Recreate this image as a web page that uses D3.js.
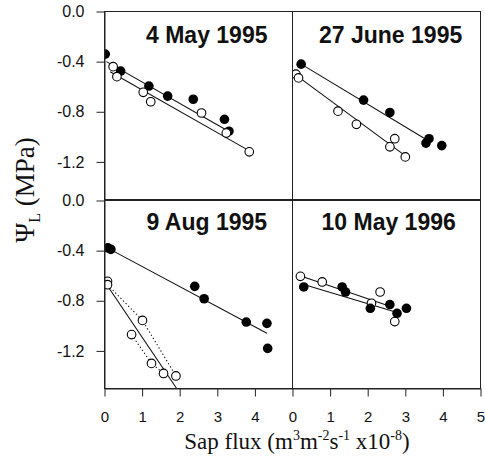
<!DOCTYPE html>
<html>
<head>
<meta charset="utf-8">
<script src="https://cdn.jsdelivr.net/npm/d3@7"></script>
<style>
  body { margin: 0; background: #fff; }
  svg { display: block; }
</style>
</head>
<body>
<svg id="chart" width="485" height="471"></svg>
<script>
// Leaf water potential vs. sap flux, four measurement days.
// Points are [sap flux (x10^-8 m3 m-2 s-1), leaf water potential (MPa)].
const panelTitles = ["4 May 1995", "27 June 1995", "9 Aug 1995", "10 May 1996"];

const may95Filled = [[0.02, -0.34], [0.43, -0.475], [1.18, -0.595], [1.68, -0.675], [2.36, -0.70], [3.19, -0.86], [3.31, -0.955]];
const may95Open   = [[0.23, -0.44], [0.33, -0.52], [1.03, -0.645], [1.23, -0.72], [2.58, -0.81], [3.24, -0.97], [3.85, -1.12]];
const may95FilledFit = [[0.05, -0.40], [3.3, -0.955]];
const may95OpenFit   = [[0.15, -0.48], [3.9, -1.12]];

const jun95Filled = [[0.23, -0.42], [1.89, -0.707], [2.59, -0.806], [3.55, -1.05], [3.63, -1.015], [3.97, -1.07]];
const jun95Open   = [[0.09, -0.50], [0.16, -0.53], [1.21, -0.795], [1.70, -0.90], [2.72, -1.015], [2.59, -1.08], [3.0, -1.16]];
const jun95FilledFit = [[0.23, -0.42], [3.6, -1.03]];
const jun95OpenFit   = [[0.1, -0.51], [2.95, -1.14]];

const aug95Filled = [[0.09, -0.378], [0.17, -0.39], [2.4, -0.685], [2.65, -0.784], [3.77, -0.97], [4.32, -0.98], [4.34, -1.18]];
const aug95Open   = [[0.08, -0.645], [0.08, -0.672], [1.01, -0.957], [0.72, -1.07], [1.25, -1.30], [1.57, -1.38], [1.9, -1.40]];
const aug95FilledFit = [[0.15, -0.39], [4.32, -1.06]];
const aug95OpenFit   = [[0.1, -0.69], [1.92, -1.5]];
const aug95UpperEnvelope = [[0.08, -0.672], [1.01, -0.957], [1.9, -1.40]];
const aug95LowerEnvelope = [[0.72, -1.07], [1.25, -1.30], [1.57, -1.38]];

const may96Filled = [[0.3, -0.69], [1.32, -0.69], [1.41, -0.73], [2.07, -0.86], [2.59, -0.83], [2.78, -0.9], [3.03, -0.86]];
const may96Open   = [[0.21, -0.605], [0.79, -0.65], [2.1, -0.82], [2.33, -0.73], [2.72, -0.966]];
const may96FilledFit = [[0.3, -0.67], [2.85, -0.90]];
const may96OpenFit   = [[0.2, -0.60], [2.65, -0.85]];

const yTicks = [0, -0.4, -0.8, -1.2];
const xTicksLeft = [0, 1, 2, 3, 4];
const xTicksRight = [0, 1, 2, 3, 4, 5];

const svg = d3.select("#chart");

const xLeft  = d3.scaleLinear().domain([0, 5]).range([104.5, 292.5]);
const xRight = d3.scaleLinear().domain([0, 5]).range([292.5, 480.5]);
const yTop    = d3.scaleLinear().domain([-1.5, 0]).range([199.5, 11.5]);
const yBottom = d3.scaleLinear().domain([-1.5, 0]).range([388.5, 200.5]);

const panels = [
  { title: panelTitles[0], x: xLeft,  y: yTop,    filled: may95Filled, open: may95Open,
    fits: [may95FilledFit, may95OpenFit], dotted: [], filledOnTop: false, tx: 41.5, ty: 43 },
  { title: panelTitles[1], x: xRight, y: yTop,    filled: jun95Filled, open: jun95Open,
    fits: [jun95FilledFit, jun95OpenFit], dotted: [], filledOnTop: false, tx: 26.5, ty: 43 },
  { title: panelTitles[2], x: xLeft,  y: yBottom, filled: aug95Filled, open: aug95Open,
    fits: [aug95FilledFit, aug95OpenFit], dotted: [aug95UpperEnvelope, aug95LowerEnvelope], filledOnTop: false, tx: 42, ty: 229.5 },
  { title: panelTitles[3], x: xRight, y: yBottom, filled: may96Filled, open: may96Open,
    fits: [may96FilledFit, may96OpenFit], dotted: [], filledOnTop: true, tx: 29, ty: 230 }
];

const ink = "#111";

panels.forEach(p => {
  const [x0, x1] = p.x.range();
  const [y1, y0] = p.y.range();
  const g = svg.append("g");

  const clipId = "clip" + Math.round(x0) + "_" + Math.round(y0);
  svg.append("clipPath").attr("id", clipId)
    .append("rect").attr("x", x0).attr("y", y0).attr("width", x1 - x0).attr("height", y1 - y0);

  const line = d3.line().x(d => p.x(d[0])).y(d => p.y(d[1]));
  const inner = g.append("g").attr("clip-path", `url(#${clipId})`);

  p.dotted.forEach(d => {
    inner.append("path").attr("d", line(d))
      .attr("fill", "none").attr("stroke", ink).attr("stroke-width", 1.1)
      .attr("stroke-dasharray", "1.3,2.4");
  });
  p.fits.forEach(d => {
    inner.append("path").attr("d", line(d))
      .attr("fill", "none").attr("stroke", ink).attr("stroke-width", 1.1);
  });

  const drawFilled = () => inner.append("g").selectAll("circle").data(p.filled).join("circle")
    .attr("cx", d => p.x(d[0])).attr("cy", d => p.y(d[1])).attr("r", 4.8)
    .attr("fill", "#000");
  const drawOpen = () => inner.append("g").selectAll("circle").data(p.open).join("circle")
    .attr("cx", d => p.x(d[0])).attr("cy", d => p.y(d[1])).attr("r", 4.3)
    .attr("fill", "#fff").attr("stroke", "#000").attr("stroke-width", 1.1);
  if (p.filledOnTop) { drawOpen(); drawFilled(); } else { drawFilled(); drawOpen(); }

  // panel frame
  g.append("rect").attr("x", x0).attr("y", y0).attr("width", x1 - x0).attr("height", y1 - y0)
    .attr("fill", "none").attr("stroke", "#222").attr("stroke-width", 1);

  g.append("text").text(p.title)
    .attr("x", x0 + p.tx).attr("y", p.ty)
    .attr("font-family", "Liberation Sans, Arial, sans-serif")
    .attr("font-weight", "bold").attr("font-size", 23)
    .attr("fill", "#111");
});

// y axes on the left panels
[yTop, yBottom].forEach(y => {
  const ax = svg.append("g").attr("transform", `translate(${xLeft(0)},0)`)
    .call(d3.axisLeft(y).tickValues(yTicks).tickFormat(d => d.toFixed(1))
      .tickSize(8).tickSizeOuter(0).tickPadding(12));
  ax.select(".domain").attr("stroke", "#222");
  ax.selectAll(".tick line").attr("stroke", "#222");
  ax.selectAll("text").attr("font-family", "Liberation Sans, Arial, sans-serif")
    .attr("font-size", 16).attr("fill", "#111");
});

// x axes along the bottom panels
[[xLeft, xTicksLeft], [xRight, xTicksRight]].forEach(([x, ticks]) => {
  const ax = svg.append("g").attr("transform", `translate(0,${yBottom(-1.5)})`)
    .call(d3.axisBottom(x).tickValues(ticks).tickFormat(d3.format("d"))
      .tickSize(8).tickSizeOuter(0).tickPadding(15));
  ax.select(".domain").attr("stroke", "#222");
  ax.selectAll(".tick line").attr("stroke", "#222");
  ax.selectAll("text").attr("font-family", "Liberation Sans, Arial, sans-serif")
    .attr("font-size", 15).attr("fill", "#111");
});

// axis titles
const serif = "Liberation Serif, Times New Roman, serif";
const xTitle = svg.append("text")
  .attr("x", 297).attr("y", 449)
  .attr("text-anchor", "middle")
  .attr("font-family", serif).attr("font-size", 23).attr("fill", "#111");
const sup = (t) => { xTitle.append("tspan").attr("dy", -9).attr("font-size", 14).text(t); };
const base = (t) => { xTitle.append("tspan").attr("dy", 9).attr("font-size", 23).text(t); };
xTitle.append("tspan").text("Sap flux (m");
sup("3"); base("m"); sup("-2"); base("s"); sup("-1"); base(" x10"); sup("-8"); base(")");

const yTitle = svg.append("text")
  .attr("transform", "translate(34,190) rotate(-90)")
  .attr("text-anchor", "middle")
  .attr("font-family", serif).attr("font-size", 27).attr("fill", "#111");
yTitle.append("tspan").text("\u03A8");
yTitle.append("tspan").attr("dy", 6).attr("font-size", 16).text("L");
yTitle.append("tspan").attr("dy", -6).text(" (MPa)");
</script>
</body>
</html>
